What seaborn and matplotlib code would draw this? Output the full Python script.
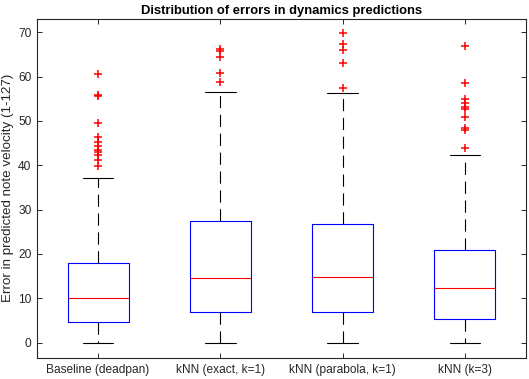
import matplotlib
matplotlib.use("Agg")
import matplotlib.pyplot as plt
import seaborn as sns

# ---- data ----
categories = ["Baseline (deadpan)", "kNN (exact, k=1)", "kNN (parabola, k=1)", "kNN (k=3)"]
q1 = [4.6, 6.9, 6.8, 5.4]
median = [10.1, 14.5, 14.7, 12.4]
q3 = [18.0, 27.4, 26.8, 20.8]
whisker_low = [0.0, 0.0, 0.0, 0.0]
whisker_high = [37.2, 56.6, 56.2, 42.3]
outliers_baseline = [60.5, 55.6, 55.9, 49.5, 46.3, 45.3, 44.4, 43.5, 42.9, 42.3, 41.1, 39.9]
outliers_exact = [66.3, 65.7, 64.5, 60.7, 58.7]
outliers_parabola = [69.8, 67.4, 66.0, 63.0, 57.4]
outliers_k3 = [66.9, 58.6, 55.0, 54.1, 53.1, 52.6, 50.8, 48.3, 48.0, 44.0]
yticks = [0, 10, 20, 30, 40, 50, 60, 70]
title = "Distribution of errors in dynamics predictions"
ylabel = "Error in predicted note velocity (1-127)"

sns.set_theme(style="white")
plt.rcParams["font.family"] = ["Liberation Sans", "DejaVu Sans"]

fig = plt.figure(figsize=(5.29, 3.79), dpi=100)
ax = fig.add_axes([37 / 529, (379 - 357.5) / 379, (526 - 37) / 529, (357.5 - 18.5) / 379])

fliers = [outliers_baseline, outliers_exact, outliers_parabola, outliers_k3]
stats = []
for i, name in enumerate(categories):
    stats.append(dict(label=name, q1=q1[i], med=median[i], q3=q3[i],
                      whislo=whisker_low[i], whishi=whisker_high[i], fliers=fliers[i]))

axc = "#262626"
ax.bxp(stats, positions=[1, 2, 3, 4], widths=0.5, showfliers=True,
       boxprops=dict(color="blue", linewidth=0.8),
       medianprops=dict(color="red", linewidth=0.8),
       whiskerprops=dict(color="black", linewidth=0.8, linestyle=(0, (11, 6))),
       capprops=dict(color="black", linewidth=0.8),
       flierprops=dict(marker="+", markeredgecolor="red", markerfacecolor="red",
                       markersize=5.5, markeredgewidth=1.1, linestyle="none"),
       capwidths=0.25)

ax.set_xlim(0.5, 4.5)
ax.set_ylim(-3.35, 73.1)
ax.set_yticks(yticks)
ax.set_xticks([1, 2, 3, 4])
ax.set_xticklabels(categories)
ax.set_title(title, fontsize=9.4, fontweight="bold", color="black", pad=3)
ax.set_ylabel(ylabel, fontsize=9.6, color=axc, labelpad=3)

for s in ax.spines.values():
    s.set_visible(True)
    s.set_color(axc)
    s.set_linewidth(0.8)
ax.tick_params(axis="both", direction="in", length=3.5, width=0.7, color=axc,
               labelsize=8.6, labelcolor=axc, top=True, right=True,
               bottom=True, left=True)
ax.tick_params(axis="x", pad=5)
ax.tick_params(axis="y", pad=4)
ax.grid(False)
ax.set_facecolor("white")
fig.patch.set_facecolor("white")

fig.savefig("out.png", dpi=100)
